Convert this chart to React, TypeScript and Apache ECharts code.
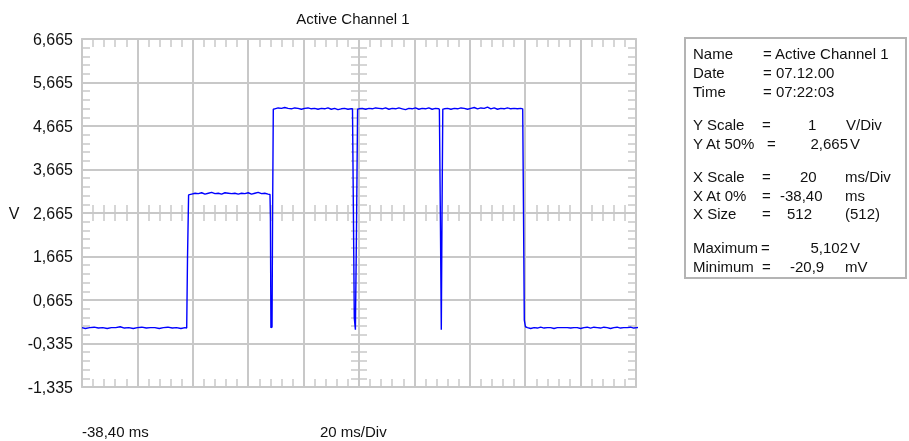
import React, { useEffect, useRef } from 'react';
import * as echarts from 'echarts';

// ---- texts / ticks ----
const chartTitle = 'Active Channel 1';
const yTickLabels = ['-1,335', '-0,335', '0,665', '1,665', '2,665', '3,665', '4,665', '5,665', '6,665'];
const yUnitLabel = 'V';
const xStartLabel = '-38,40 ms';
const xScaleLabel = '20 ms/Div';
const timeRangeMs = [-38.4, 161.6];
const voltRange = [-1.335, 6.665];
const xDivisions = 10;
const yDivisions = 8;

// ---- waveform samples [time ms, volts] ----
const baselineLead: [number, number][] = [
  [-38.4, 0.03], [-37.2, 0.01], [-35.6, 0.03], [-34.0, 0.04], [-32.5, 0.02], [-30.9, 0.03],
  [-29.3, 0.01], [-27.8, 0.03], [-26.2, 0.03], [-24.6, 0.05], [-23.1, 0.02], [-21.5, 0.03],
  [-19.9, 0.01], [-18.4, 0.03], [-16.8, 0.04], [-15.2, 0.02], [-13.7, 0.03], [-12.1, 0.03],
  [-10.5, 0.01], [-9.0, 0.03], [-7.4, 0.04], [-5.8, 0.02], [-4.3, 0.03], [-2.7, 0.01],
  [-1.2, 0.03], [-0.6, 0.02],
];
const riseEdge: [number, number][] = [[-0.31, 1.63], [0.08, 3.08]];
const level3V: [number, number][] = [
  [1.2, 3.10], [2.4, 3.12], [3.6, 3.11], [4.8, 3.13], [6.0, 3.10], [7.2, 3.12], [8.4, 3.14],
  [9.6, 3.11], [10.8, 3.12], [12.0, 3.10], [13.2, 3.13], [14.4, 3.12], [15.6, 3.11], [16.8, 3.12],
  [18.0, 3.10], [19.2, 3.12], [20.4, 3.11], [21.6, 3.13], [22.8, 3.10], [24.0, 3.12], [25.2, 3.14],
  [26.4, 3.11], [27.6, 3.12], [28.8, 3.10], [29.47, 3.09],
];
const glitch1: [number, number][] = [[29.62, 2.55], [29.8, 0.03], [30.2, 0.04], [30.4, 2.55], [30.66, 5.05]];
const level5Va: [number, number][] = [
  [31.2, 5.06], [32.4, 5.08], [33.6, 5.07], [34.8, 5.09], [36.0, 5.07], [37.2, 5.06], [38.4, 5.08],
  [39.6, 5.07], [40.8, 5.05], [42.0, 5.07], [43.2, 5.08], [44.4, 5.06], [45.6, 5.07], [46.8, 5.05],
  [48.0, 5.07], [49.2, 5.06], [50.4, 5.08], [51.6, 5.05], [52.8, 5.07], [54.0, 5.04], [55.2, 5.06],
  [56.4, 5.07], [57.6, 5.05], [58.8, 5.06], [59.25, 5.06],
];
const glitch2: [number, number][] = [[59.58, 2.7], [59.9, 0.25], [60.3, -0.02], [60.69, 2.25], [61.09, 5.05]];
const level5Vb: [number, number][] = [
  [61.6, 5.06], [62.8, 5.07], [64.0, 5.05], [65.2, 5.07], [66.4, 5.06], [67.6, 5.08], [68.8, 5.07],
  [70.0, 5.06], [71.2, 5.08], [72.4, 5.05], [73.6, 5.07], [74.8, 5.06], [76.0, 5.08], [77.2, 5.06],
  [78.4, 5.04], [79.6, 5.07], [80.8, 5.06], [82.0, 5.08], [83.2, 5.05], [84.4, 5.07], [85.6, 5.06],
  [86.8, 5.08], [88.0, 5.05], [89.2, 5.07], [90.4, 5.06], [90.62, 5.05],
];
const glitch3: [number, number][] = [[90.98, 2.55], [91.31, -0.02], [91.56, 2.55], [91.85, 5.05]];
const level5Vc: [number, number][] = [
  [92.4, 5.06], [93.6, 5.07], [94.8, 5.05], [96.0, 5.07], [97.2, 5.06], [98.4, 5.08], [99.6, 5.07],
  [100.8, 5.05], [102.0, 5.07], [103.2, 5.09], [104.4, 5.06], [105.6, 5.08], [106.8, 5.07], [108.0, 5.10],
  [109.2, 5.06], [110.4, 5.08], [111.6, 5.05], [112.8, 5.07], [114.0, 5.06], [115.2, 5.08], [116.4, 5.06],
  [117.6, 5.07], [118.8, 5.06], [120.0, 5.07], [120.7, 5.06],
];
const fallEdge: [number, number][] = [[120.99, 2.67], [121.28, 0.2], [121.7, 0.05]];
const baselineTail: [number, number][] = [
  [122.4, 0.03], [123.6, 0.01], [124.8, 0.03], [126.0, 0.02], [127.2, 0.04], [128.4, 0.02], [129.6, 0.03],
  [130.8, 0.03], [132.0, 0.01], [133.2, 0.03], [134.4, 0.03], [135.6, 0.03], [136.8, 0.03], [138.0, 0.02],
  [139.2, 0.03], [140.4, 0.03], [141.6, 0.01], [142.8, 0.03], [144.0, 0.04], [145.2, 0.02], [146.4, 0.04],
  [147.6, 0.03], [148.8, 0.02], [150.0, 0.04], [151.2, 0.03], [152.4, 0.01], [153.6, 0.03], [154.8, 0.04],
  [156.0, 0.02], [157.2, 0.03], [158.4, 0.03], [159.6, 0.04], [160.8, 0.02], [162.0, 0.03], [163.2, 0.04],
  [164.4, 0.02], [165.9, 0.03],
];

// ---- info panel ----
type Part = { text: string; x: number; align?: 'left' | 'right' | 'center' };
const infoRows: { y: number; parts: Part[] }[] = [
  { y: 53, parts: [{ text: 'Name', x: 693 }, { text: '= Active Channel 1', x: 763 }] },
  { y: 72, parts: [{ text: 'Date', x: 693 }, { text: '= 07.12.00', x: 763 }] },
  { y: 91, parts: [{ text: 'Time', x: 693 }, { text: '= 07:22:03', x: 763 }] },
  { y: 124, parts: [{ text: 'Y Scale', x: 693 }, { text: '=', x: 762 }, { text: '1', x: 808 }, { text: 'V/Div', x: 846 }] },
  { y: 143, parts: [{ text: 'Y At 50%', x: 693 }, { text: '=', x: 767 }, { text: '2,665', x: 848, align: 'right' }, { text: 'V', x: 850 }] },
  { y: 176, parts: [{ text: 'X Scale', x: 693 }, { text: '=', x: 762 }, { text: '20', x: 800 }, { text: 'ms/Div', x: 845 }] },
  { y: 195, parts: [{ text: 'X At 0%', x: 693 }, { text: '=', x: 762 }, { text: '-38,40', x: 780 }, { text: 'ms', x: 845 }] },
  { y: 213, parts: [{ text: 'X Size', x: 693 }, { text: '=', x: 762 }, { text: '512', x: 787 }, { text: '(512)', x: 845 }] },
  { y: 247, parts: [{ text: 'Maximum', x: 693 }, { text: '=', x: 761 }, { text: '5,102', x: 848, align: 'right' }, { text: 'V', x: 850 }] },
  { y: 266, parts: [{ text: 'Minimum', x: 693 }, { text: '=', x: 762 }, { text: '-20,9', x: 790 }, { text: 'mV', x: 845 }] },
];

const FONT = '"Liberation Sans", Arial, sans-serif';
const GRID_COLOR = '#c8c8c8';
const TEXT_COLOR = '#111';

const PLOT = { left: 82, top: 39, width: 554, height: 348 };

function frameAxis(extra: any) {
  return {
    type: 'value',
    min: 0,
    interval: 1,
    axisLine: { show: true, onZero: false, lineStyle: { color: GRID_COLOR, width: 2 } },
    axisTick: { show: true, inside: true, length: 8, lineStyle: { color: GRID_COLOR, width: 1.5 } },
    minorTick: { show: true, splitNumber: 5, length: 8, lineStyle: { color: GRID_COLOR, width: 1.5 } },
    axisLabel: { show: false },
    splitLine: { show: false },
    ...extra,
  };
}

export default function App() {
  const ref = useRef<HTMLDivElement>(null);
  useEffect(() => {
    const chart = echarts.init(ref.current!, null, { renderer: 'svg' });
    const waveform = [
      ...baselineLead, ...riseEdge, ...level3V, ...glitch1, ...level5Va, ...glitch2,
      ...level5Vb, ...glitch3, ...level5Vc, ...fallEdge, ...baselineTail,
    ];
    const textStyle = (text: string, x: number, y: number, align: string = 'left', size = 15) => ({
      type: 'text',
      x, y,
      style: { text, fill: TEXT_COLOR, font: `${size}px ${FONT}`, textAlign: align, textVerticalAlign: 'middle' },
    });
    const infoTexts: any[] = [];
    infoRows.forEach((r) => r.parts.forEach((p) => infoTexts.push(textStyle(p.text, p.x, r.y, p.align || 'left'))));

    const option: any = {
      animation: false,
      textStyle: { fontFamily: FONT },
      grid: [
        { ...PLOT, containLabel: false, outerBoundsMode: 'none' },
        { left: PLOT.left, top: PLOT.top, width: PLOT.width, height: PLOT.height / 2, containLabel: false, outerBoundsMode: 'none' },
        { left: PLOT.left, top: PLOT.top, width: PLOT.width / 2, height: PLOT.height, containLabel: false, outerBoundsMode: 'none' },
      ],
      xAxis: [
        { type: 'value', gridIndex: 0, min: timeRangeMs[0], max: timeRangeMs[1], show: false, axisLine: { onZero: false } },
        frameAxis({ gridIndex: 0, position: 'bottom', max: xDivisions, splitLine: { show: true, lineStyle: { color: GRID_COLOR, width: 2 } } }),
        frameAxis({ gridIndex: 0, position: 'top', max: xDivisions }),
        frameAxis({ gridIndex: 1, position: 'bottom', max: xDivisions, axisLine: { show: false, onZero: false } }),
        frameAxis({ gridIndex: 1, position: 'bottom', max: xDivisions, axisLine: { show: false, onZero: false }, axisTick: { show: true, inside: false, length: 8, lineStyle: { color: GRID_COLOR, width: 1.5 } } }),
        { type: 'value', gridIndex: 2, min: 0, max: 1, show: false, axisLine: { onZero: false } },
      ],
      yAxis: [
        { type: 'value', gridIndex: 0, min: voltRange[0], max: voltRange[1], show: false, axisLine: { onZero: false } },
        frameAxis({
          gridIndex: 0, position: 'left', max: yDivisions,
          splitLine: { show: true, lineStyle: { color: GRID_COLOR, width: 2 } },
          axisLabel: {
            show: true, margin: 9, fontSize: 16, color: TEXT_COLOR, fontFamily: FONT,
            formatter: (v: number) => yTickLabels[Math.round(v)] ?? '',
          },
        }),
        frameAxis({ gridIndex: 0, position: 'right', max: yDivisions }),
        { type: 'value', gridIndex: 1, min: 0, max: 1, show: false, axisLine: { onZero: false } },
        frameAxis({ gridIndex: 2, position: 'right', max: yDivisions, axisLine: { show: false, onZero: false } }),
        frameAxis({ gridIndex: 2, position: 'right', max: yDivisions, axisLine: { show: false, onZero: false }, axisTick: { show: true, inside: false, length: 8, lineStyle: { color: GRID_COLOR, width: 1.5 } } }),
      ],
      series: [
        {
          type: 'line',
          xAxisIndex: 0,
          yAxisIndex: 0,
          data: waveform,
          symbol: 'none',
          showSymbol: false,
          clip: false,
          z: 5,
          lineStyle: { color: '#0000ff', width: 1.4 },
        },
      ],
      graphic: [
        textStyle(chartTitle, 353, 18, 'center', 15),
        textStyle(yUnitLabel, 14, 213, 'center', 16),
        textStyle(xStartLabel, 82, 431, 'left', 15),
        textStyle(xScaleLabel, 320, 431, 'left', 15),
        {
          type: 'rect',
          shape: { x: 685, y: 38, width: 221, height: 240 },
          style: { fill: 'none', stroke: '#b4b4b4', lineWidth: 2 },
        },
        ...infoTexts,
      ],
    };
    chart.setOption(option);
    return () => chart.dispose();
  }, []);
  return <div ref={ref} style={{ position: 'fixed', left: 0, top: 0, width: 909, height: 441 }} />;
}
